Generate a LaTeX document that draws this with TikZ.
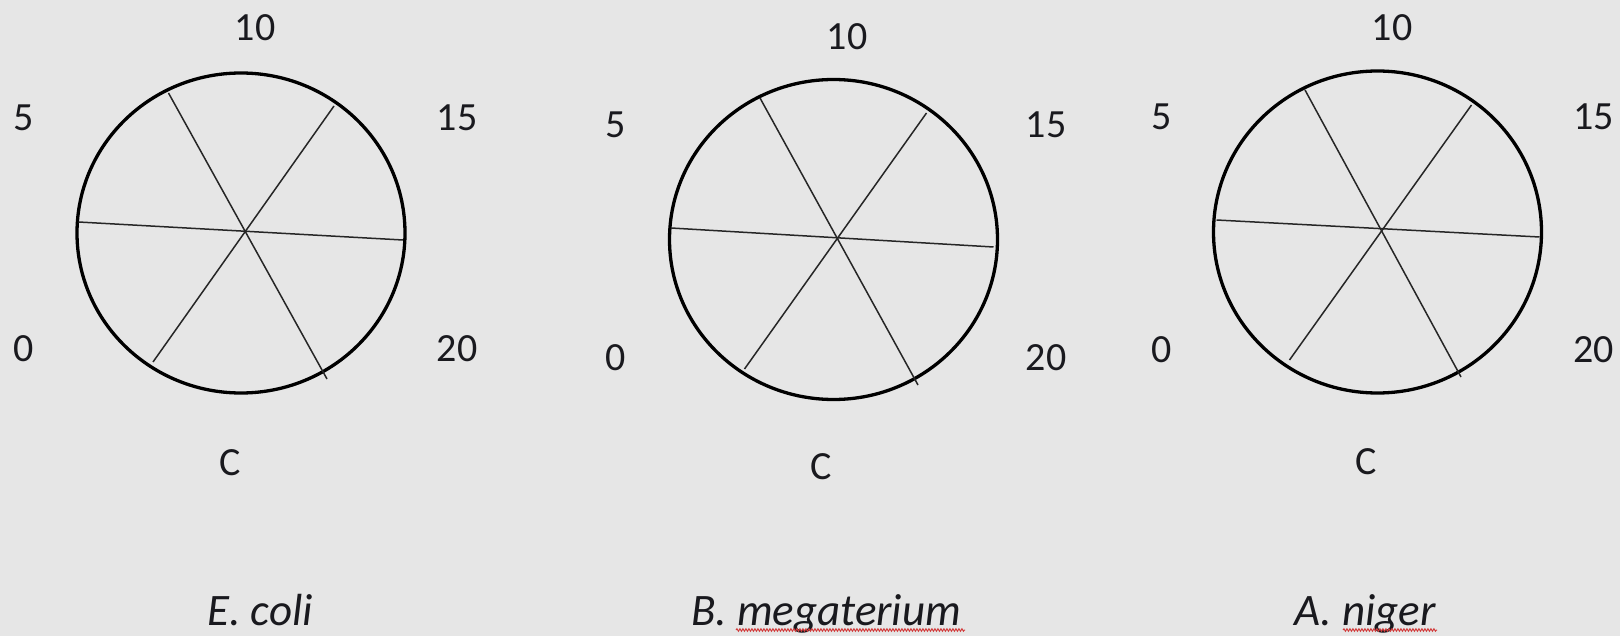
\documentclass[tikz,border=0pt]{standalone}
\usepackage{fontspec}
\setmainfont{Carlito}
\usetikzlibrary{decorations.pathmorphing}
\definecolor{bg}{RGB}{230,230,230}
\definecolor{ink}{RGB}{25,25,30}
\definecolor{squig}{RGB}{210,60,60}
\tikzset{
  ring/.style={line width=3.3pt, draw=black},
  spoke/.style={line width=1.5pt, draw=black!85},
  num/.style={inner sep=0pt, text=ink, font=\fontsize{40}{46}\selectfont},
  species/.style={inner sep=0pt, anchor=base, text=ink, font=\fontsize{45}{52}\selectfont\itshape},
  wavy/.style={draw=squig, line width=1pt, decorate, decoration={snake, amplitude=1.2pt, segment length=3pt}}
}
\begin{document}
\begin{tikzpicture}[x=1pt,y=-1pt]
\fill[bg] (0,0) rectangle (1620,636);
\useasboundingbox (0,0) rectangle (1620,636);

% ---------- Circle 1 ----------
\draw[ring] (241,233) ellipse [x radius=164, y radius=160];
\coordinate (aul) at (168.5,93);
\coordinate (aur) at (334,106);
\coordinate (al) at (78.5,222);
\coordinate (ar) at (403,240);
\coordinate (all) at (153,362);
\coordinate (alr) at (327,379);
\draw[spoke] (aul) -- (alr);
\draw[spoke] (aur) -- (all);
\draw[spoke] (al) -- (ar);
\node[num] (a10) at (255,28) {10};
\node[num] (a5) at (23.5,118) {5};
\node[num] (a15) at (457,118) {15};
\node[num] (a00) at (23.5,349) {0};
\node[num] (a20) at (457,349) {20};
\node[num] (aC) at (230,463) {C};

% ---------- Circle 2 ----------
\draw[ring] (833.5,239.5) ellipse [x radius=164, y radius=160];
\coordinate (bul) at (760,98);
\coordinate (bur) at (926.5,113);
\coordinate (bl) at (671,228);
\coordinate (br) at (993.5,247);
\coordinate (bll) at (744.5,369);
\coordinate (blr) at (918,385);
\draw[spoke] (bul) -- (blr);
\draw[spoke] (bur) -- (bll);
\draw[spoke] (bl) -- (br);
\node[num] (b10) at (847,37) {10};
\node[num] (b5) at (615.5,125) {5};
\node[num] (b15) at (1046,125) {15};
\node[num] (b00) at (615.5,358) {0};
\node[num] (b20) at (1046,358) {20};
\node[num] (bC) at (821,467) {C};

% ---------- Circle 3 ----------
\draw[ring] (1377.5,232) ellipse [x radius=164, y radius=161];
\coordinate (cul) at (1305,90);
\coordinate (cur) at (1471.5,105);
\coordinate (cl) at (1216.5,220);
\coordinate (cr) at (1539.5,237);
\coordinate (cll) at (1289.5,360);
\coordinate (clr) at (1461,377);
\draw[spoke] (cul) -- (clr);
\draw[spoke] (cur) -- (cll);
\draw[spoke] (cl) -- (cr);
\node[num] (c10) at (1392,28) {10};
\node[num] (c5) at (1161.5,117) {5};
\node[num] (c15) at (1593.5,117) {15};
\node[num] (c00) at (1161.5,350) {0};
\node[num] (c20) at (1593.5,350) {20};
\node[num] (cC) at (1366,462) {C};

% ---------- Species labels ----------
\node[species] (sp1) at (260,625) {E. coli};
\node[species] (sp2) at (826,625) {B. megaterium};
\node[species] (sp3) at (1365,625) {A. niger};
\draw[wavy] (736,630) -- (965,630);
\draw[wavy] (1343,630) -- (1437,630);
\end{tikzpicture}
\end{document}
